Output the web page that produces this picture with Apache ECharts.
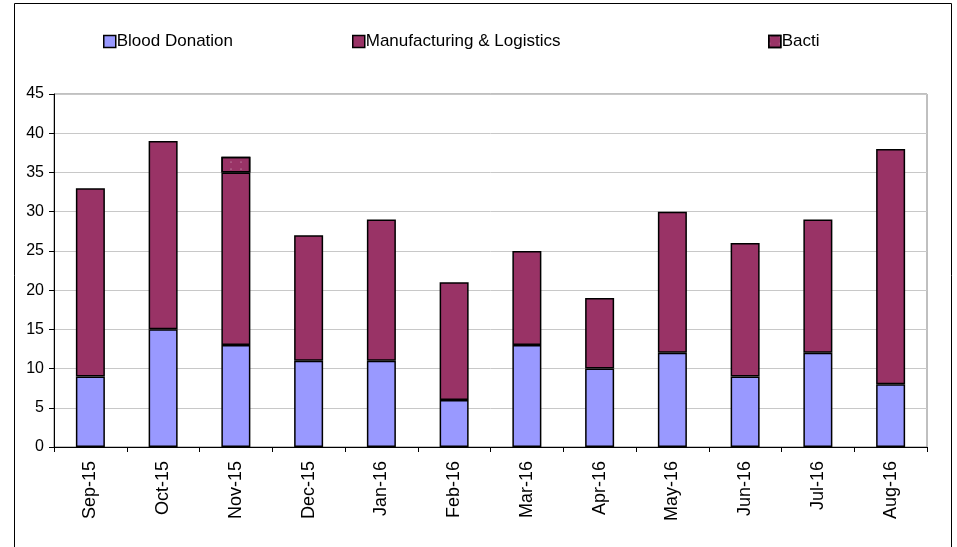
<!DOCTYPE html>
<html>
<head>
<meta charset="utf-8">
<script src="https://cdn.jsdelivr.net/npm/echarts@6/dist/echarts.min.js"></script>
<style>
  html, body { margin: 0; padding: 0; background: #fff; }
  #chart { width: 957px; height: 547px; }
</style>
</head>
<body>
<div id="chart"></div>
<script>
// Monthly counts by area
const months = ['Sep-15', 'Oct-15', 'Nov-15', 'Dec-15', 'Jan-16', 'Feb-16',
                'Mar-16', 'Apr-16', 'May-16', 'Jun-16', 'Jul-16', 'Aug-16'];
const bloodDonation = [9, 15, 13, 11, 11, 6, 13, 10, 12, 9, 12, 8];
const manufacturingLogistics = [24, 24, 22, 16, 18, 15, 12, 9, 18, 17, 17, 30];
const bacti = [0, 0, 2, 0, 0, 0, 0, 0, 0, 0, 0, 0];
const yTicks = { min: 0, max: 45, interval: 5 };

const FONT = 'Liberation Sans, Arial, sans-serif';
const barBorder = { borderColor: '#000', borderWidth: 1.5 };
// small white dots on the Bacti segment
const dots = {
  symbol: 'circle',
  symbolSize: 0.5,
  color: 'rgba(255,255,255,0.8)',
  dashArrayX: [[2, 8]],
  dashArrayY: [2, 5],
  rotation: 0
};

const chart = echarts.init(document.getElementById('chart'));

function legendAt(name, left) {
  return {
    data: [name],
    left: left,
    top: 28,
    itemWidth: 12,
    itemHeight: 12,
    itemGap: 4,
    icon: 'rect',
    itemStyle: { borderColor: '#000', borderWidth: 1.5 },
    textStyle: { fontFamily: FONT, fontSize: 17, color: '#000', padding: [0, 0, 0, -4] }
  };
}

chart.setOption({
  animation: false,
  backgroundColor: '#fff',
  graphic: [{
    type: 'rect',
    shape: { x: 14.5, y: 3.5, width: 937, height: 560 },
    style: { fill: 'none', stroke: '#000', lineWidth: 1 },
    silent: true,
    z: 100
  }],
  legend: [
    legendAt('Blood Donation', 98),
    legendAt('Manufacturing & Logistics', 347),
    legendAt('Bacti', 763)
  ],
  grid: {
    left: 54, right: 30, top: 94, bottom: 100,
    show: true, borderColor: '#808080', borderWidth: 1
  },
  xAxis: {
    type: 'category',
    data: months,
    boundaryGap: true,
    axisLine: { lineStyle: { color: '#000', width: 1 } },
    axisTick: { show: true, length: 5, lineStyle: { color: '#000' } },
    axisLabel: {
      rotate: 90, fontFamily: FONT, fontSize: 18, color: '#000', margin: 14
    }
  },
  yAxis: {
    type: 'value',
    min: yTicks.min, max: yTicks.max, interval: yTicks.interval,
    axisLine: { show: true, lineStyle: { color: '#000', width: 1 } },
    axisTick: { show: true, length: 5, lineStyle: { color: '#000' } },
    axisLabel: { fontFamily: FONT, fontSize: 16, color: '#000', margin: 10 },
    splitLine: { lineStyle: { color: '#c8c8c8', width: 1 } }
  },
  series: [
    {
      name: 'Blood Donation', type: 'bar', stack: 'total', barWidth: 29,
      itemStyle: Object.assign({ color: '#9999FF' }, barBorder),
      data: bloodDonation
    },
    {
      name: 'Manufacturing & Logistics', type: 'bar', stack: 'total', barWidth: 29,
      itemStyle: Object.assign({ color: '#993366' }, barBorder),
      data: manufacturingLogistics
    },
    {
      name: 'Bacti', type: 'bar', stack: 'total', barWidth: 29,
      itemStyle: Object.assign({ color: '#993366', decal: dots }, barBorder),
      data: bacti.map(v => (v === 0 ? '-' : v))
    }
  ]
});
</script>
</body>
</html>
